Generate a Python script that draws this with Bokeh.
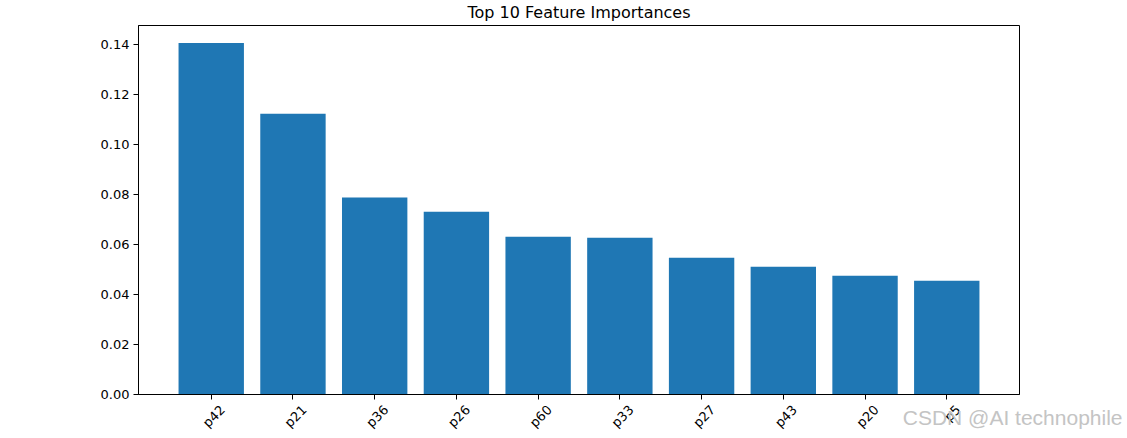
import math
from bokeh.plotting import figure
from bokeh.models import Range1d, FixedTicker, LinearAxis, Title, ColumnDataSource, NumeralTickFormatter
from bokeh.embed import file_html
from bokeh.resources import INLINE

features = ["p42", "p21", "p36", "p26", "p60", "p33", "p27", "p43", "p20", "p5"]
importances = [0.1405, 0.1122, 0.0788, 0.0731, 0.0631, 0.0627, 0.0547, 0.0511, 0.0475, 0.0455]
y_ticks = [0.00, 0.02, 0.04, 0.06, 0.08, 0.10, 0.12, 0.14]

idx = list(range(len(features)))
src = ColumnDataSource(data=dict(x=idx, top=importances, name=features))

FONT = "DejaVu Sans"
x0, x1 = -0.89, len(features) - 1 + 0.89

p = figure(width=1127, height=438, output_backend="svg", toolbar_location=None,
           x_range=Range1d(x0, x1),
           y_range=Range1d(0, max(importances) * 1.05),
           title="Top 10 Feature Importances",
           min_border_left=138, min_border_right=108, min_border_bottom=44, min_border_top=25)

p.vbar(x="x", top="top", bottom=0, width=0.8, source=src, color="#1f77b4", line_color=None)

p.title.align = "center"
p.title.vertical_align = "top"
p.title.text_font = FONT
p.title.text_font_size = "16px"
p.title.text_font_style = "normal"
p.title.text_color = "black"
p.title.standoff = 3
p.title.offset = 0

p.xgrid.visible = False
p.ygrid.visible = False
p.outline_line_color = "black"
p.outline_line_alpha = 1
p.outline_line_width = 1
p.background_fill_color = "white"
p.border_fill_color = "white"

xa = p.xaxis[0]
ya = p.yaxis[0]
xa.ticker = FixedTicker(ticks=idx)
xa.major_label_overrides = {i: "" for i in idx}
xa.major_label_text_font_size = "0px"
xa.major_label_standoff = 0
ya.ticker = FixedTicker(ticks=y_ticks)
ya.formatter = NumeralTickFormatter(format="0.00")
ya.major_label_text_font_size = "13px"
ya.major_label_standoff = 4

for ax in (xa, ya):
    ax.axis_line_color = "black"
    ax.major_tick_line_color = "black"
    ax.major_tick_out = 5
    ax.major_tick_in = 0
    ax.minor_tick_line_color = None
    ax.major_label_text_font = FONT
    ax.major_label_text_color = "black"

# label-only axis on a slightly shifted range so the rotated names sit centred under the ticks
shift = 0.14
p.extra_x_ranges = {"lbl": Range1d(x0 - shift, x1 - shift)}
la = LinearAxis(x_range_name="lbl", ticker=FixedTicker(ticks=idx),
                major_label_overrides={i: f for i, f in enumerate(features)},
                major_label_orientation=math.pi / 4,
                axis_line_color=None, major_tick_line_color=None,
                major_tick_out=0, major_tick_in=0, minor_tick_line_color=None,
                major_label_standoff=8,
                major_label_text_font=FONT, major_label_text_font_size="13px",
                major_label_text_color="black")
p.add_layout(la, "below")

wm = Title(text="CSDN @AI technophile", align="right", vertical_align="top",
           offset=-103, standoff=-66,
           text_font="Liberation Sans", text_font_size="21px", text_font_style="normal",
           text_color="#c4c4c4")
p.add_layout(wm, "below")

open("out.html", "w").write(file_html(p, INLINE))
